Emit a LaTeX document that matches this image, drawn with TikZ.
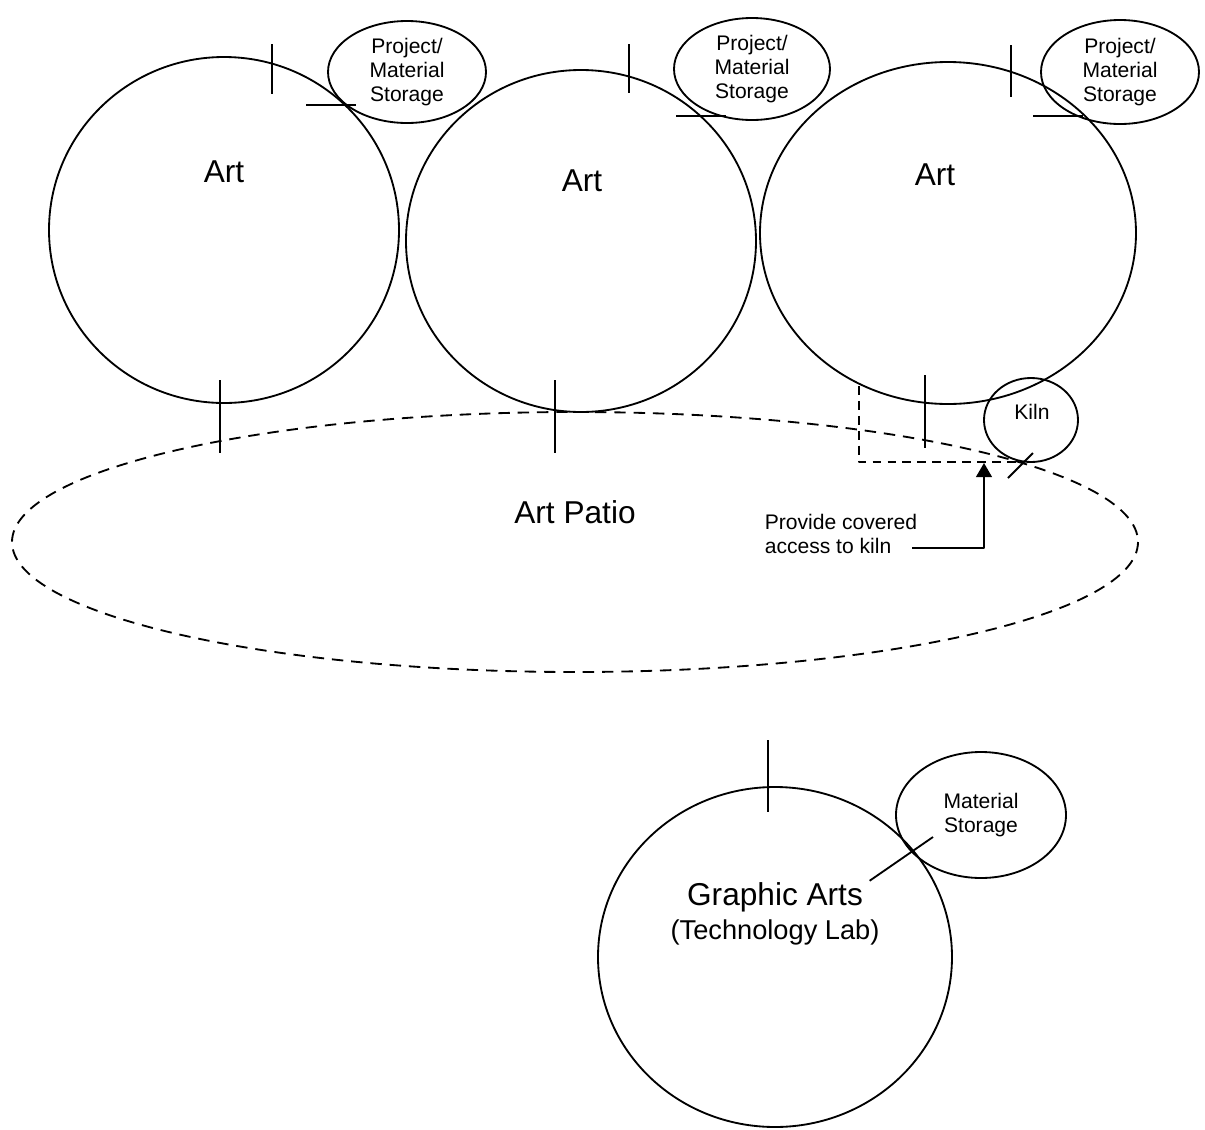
\documentclass[tikz,border=0pt]{standalone}
\usepackage{fontspec}
\setmainfont{Liberation Sans}
\usetikzlibrary{arrows.meta}

\begin{document}
\begin{tikzpicture}[x=0.02cm, y=-0.02cm, line join=round, line width=1.05pt,
  room/.style={font=\fontsize{18}{21}\selectfont},
  store/.style={font=\fontsize{12}{13.6}\selectfont, align=center},
  note/.style={font=\fontsize{12}{14}\selectfont, align=left},
  patio/.style={dash pattern=on 6.5pt off 4.5pt},
  cover/.style={dash pattern=on 5pt off 3.5pt}]
\useasboundingbox (0,0) rectangle (1205,1130);

% art rooms and their storage
\coordinate (art1) at (224,230);
\coordinate (art2) at (581,241);
\coordinate (art3) at (948,233);
\coordinate (st1) at (407,72);
\coordinate (st2) at (752,69);
\coordinate (st3) at (1120,72);

\draw (art1) circle [x radius=175, y radius=173];
\draw (art2) circle [x radius=175, y radius=171];
\draw (art3) circle [x radius=188, y radius=171];
\draw (st1) circle [x radius=79, y radius=51];
\draw (st2) circle [x radius=78, y radius=51];
\draw (st3) circle [x radius=79, y radius=52];

\node[room] (artlab1) at (224,172) {Art};
\node[room] (artlab2) at (582,181) {Art};
\node[room] (artlab3) at (935,175) {Art};
\node[store] (stlab1) at (st1) {Project/\\Material\\Storage};
\node[store] (stlab2) at (st2) {Project/\\Material\\Storage};
\node[store] (stlab3) at (st3) {Project/\\Material\\Storage};

% doors
\draw (272,44) -- (272,94);
\draw (306,105) -- (356,105);
\draw (629,44) -- (629,93);
\draw (676,116) -- (726,116);
\draw (1011,45) -- (1011,97);
\draw (1033,116) -- (1083,116);
\draw (220,380) -- (220,453);
\draw (555,380) -- (555,453);
\draw (925,375) -- (925,448);

% patio and kiln
\coordinate (patio) at (575,542);
\coordinate (kiln) at (1031,420);
\draw[patio] (patio) circle [x radius=563, y radius=130];
\draw (kiln) circle [x radius=47, y radius=42];
\draw (1008,478) -- (1033,453);
\draw[cover] (859,386) -- (859,462) -- (1023,462);

\node[room] (patiolab) at (575,512) {Art Patio};
\node[note] (kilnlab) at (1032,412) {Kiln};
\node[note, anchor=west] (covlab) at (758,534) {Provide covered\\access to kiln};

\coordinate (a1) at (912,548);
\coordinate (a2) at (984,548);
\coordinate (a3) at (984,463);
\draw[-{Triangle[length=8pt, width=9pt]}] (a1) -- (a2) -- (a3);

% graphic arts
\coordinate (gfx) at (775,957);
\coordinate (mst) at (981,815);
\draw (gfx) circle [x radius=177, y radius=170];
\draw (mst) circle [x radius=85, y radius=63];
\draw (768,740) -- (768,812);

\node[room] (gfxlab) at (775,897) {Graphic Arts};
\node[font=\fontsize{15.5}{18}\selectfont] (techlab) at (775,932) {(Technology Lab)};
\node[store] (mstlab) at (mst) {Material\\Storage};

\coordinate (lead) at (933,837);
\draw ([yshift=-3pt]gfxlab.north east) -- (lead);
\end{tikzpicture}
\end{document}
